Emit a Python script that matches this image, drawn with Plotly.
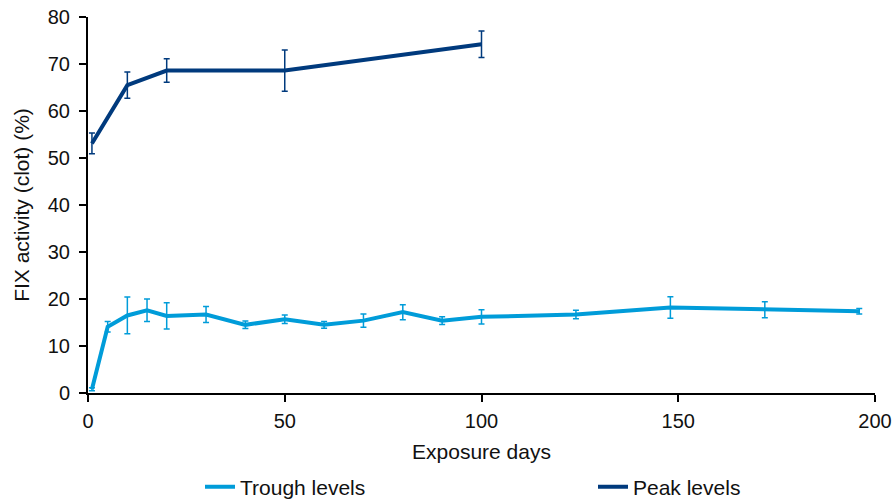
import plotly.graph_objects as go

trough_days = [1, 5, 10, 15, 20, 30, 40, 50, 60, 70, 80, 90, 100, 124, 148, 172, 196]
trough_vals = [0.8, 14.1, 16.5, 17.6, 16.4, 16.7, 14.5, 15.7, 14.5, 15.4, 17.2, 15.4, 16.2, 16.7, 18.2, 17.7, 17.4]
trough_err = [0.3, 1.1, 3.9, 2.4, 2.8, 1.7, 0.8, 0.9, 0.7, 1.4, 1.6, 0.8, 1.5, 0.9, 2.3, 1.7, 0.6]

peak_days = [1, 10, 20, 50, 100]
peak_vals = [53.1, 65.5, 68.6, 68.6, 74.2]
peak_err = [2.2, 2.8, 2.5, 4.4, 2.8]

trough_color = "#009cd9"
peak_color = "#003a7d"

fig = go.Figure()
fig.add_trace(go.Scatter(
    x=trough_days, y=trough_vals, mode="lines", name="Trough levels", legend="legend",
    line=dict(color=trough_color, width=4),
    error_y=dict(type="data", array=trough_err, visible=True, color=trough_color, thickness=1.5, width=3),
))
fig.add_trace(go.Scatter(
    x=peak_days, y=peak_vals, mode="lines", name="Peak levels", legend="legend2",
    line=dict(color=peak_color, width=4),
    error_y=dict(type="data", array=peak_err, visible=True, color=peak_color, thickness=1.5, width=3),
))

# body margin is removed in the page, so the figure fills the 896x500 window
W, H = 896, 500
L, R, T, B = 88, 21, 17, 107
pw = W - L - R
ph = H - T - B

fam = "Liberation Sans, Arial, Helvetica, sans-serif"
font = dict(family=fam, size=21, color="#111111")
ly = (H - B - 487) / ph
fig.update_layout(
    width=W, height=H,
    margin=dict(l=L, r=R, t=T, b=B, autoexpand=False),
    paper_bgcolor="white", plot_bgcolor="white",
    font=font,
    showlegend=True,
    legend=dict(x=(200 - L) / pw, xanchor="left", y=ly, yanchor="middle", font=font,
                bgcolor="rgba(0,0,0,0)", itemwidth=30),
    legend2=dict(x=(593 - L) / pw, xanchor="left", y=ly, yanchor="middle", font=font,
                 bgcolor="rgba(0,0,0,0)", itemwidth=30),
)
fig.update_xaxes(range=[0, 200], tickvals=[0, 50, 100, 150, 200], showline=True, linecolor="black",
                 linewidth=2, ticks="outside", ticklen=7, tickwidth=2, tickcolor="black",
                 showgrid=False, zeroline=False, automargin=False,
                 ticklabeloverflow="allow", ticklabelstandoff=2,
                 tickfont=dict(size=20),
                 title=dict(text="Exposure days", standoff=13, font=dict(size=21)))
fig.update_yaxes(range=[0, 80], tickvals=list(range(0, 81, 10)), showline=True, linecolor="black",
                 linewidth=2, ticks="outside", ticklen=7, tickwidth=2, tickcolor="black",
                 showgrid=False, zeroline=False, automargin=False,
                 ticklabeloverflow="allow", ticklabelstandoff=5,
                 tickfont=dict(size=20),
                 title=dict(text="FIX activity (clot) (%)", standoff=12, font=dict(size=21)))

fig.write_html("out.html", config={"displayModeBar": False},
               post_script="document.body.style.margin='0';")
